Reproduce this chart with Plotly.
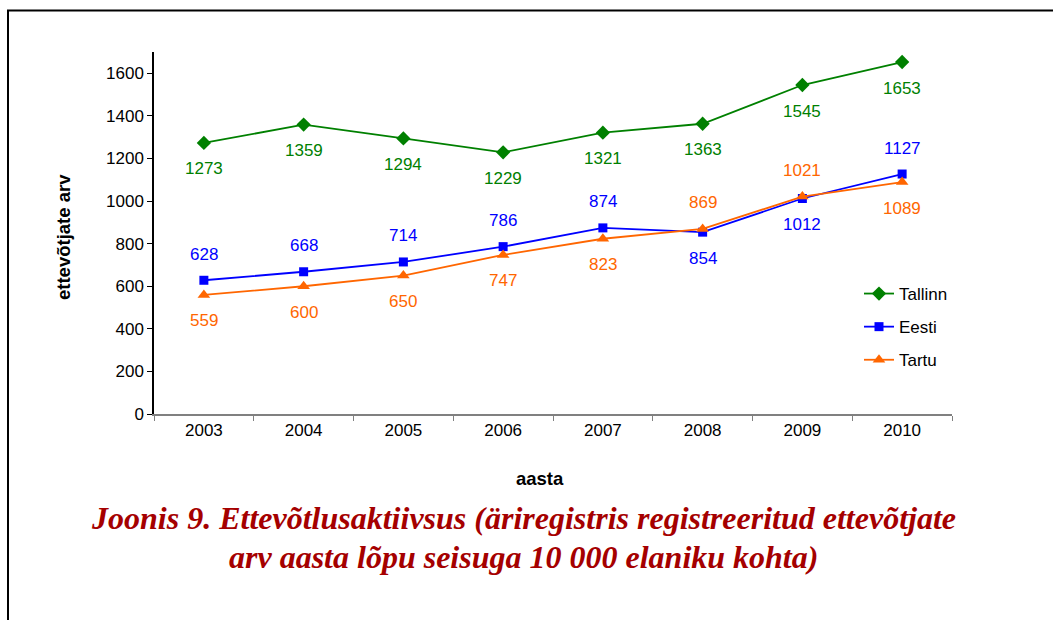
import plotly.graph_objects as go

years = ["2003", "2004", "2005", "2006", "2007", "2008", "2009", "2010"]
tallinn = [1273, 1359, 1294, 1229, 1321, 1363, 1545, 1653]
eesti = [628, 668, 714, 786, 874, 854, 1012, 1127]
tartu = [559, 600, 650, 747, 823, 869, 1021, 1089]

# label placement: +1 above, -1 below
tallinn_pos = [-1, -1, -1, -1, -1, -1, -1, -1]
eesti_pos = [1, 1, 1, 1, 1, -1, -1, 1]
tartu_pos = [-1, -1, -1, -1, -1, 1, 1, -1]

series = [
    ("Tallinn", tallinn, tallinn_pos, "#008000", "diamond", 11),
    ("Eesti", eesti, eesti_pos, "#0000FF", "square", 9),
    ("Tartu", tartu, tartu_pos, "#FF6600", "triangle-up", 11),
]

fig = go.Figure()
annotations = []
for name, vals, pos, col, sym, ms in series:
    fig.add_trace(go.Scatter(
        x=years, y=vals, name=name, mode="lines+markers",
        line=dict(color=col, width=1.8),
        marker=dict(symbol=sym, size=ms, color=col),
        legendgroup=name,
    ))
    for i, (v, p) in enumerate(zip(vals, pos)):
        annotations.append(dict(
            x=i, y=v, xref="x", yref="y", text=str(v), showarrow=False,
            yshift=26 * p, font=dict(family="Arial, Liberation Sans", size=17, color=col),
        ))

L, R, T, B = 154, 101, 52, 206
W, H = 1053, 620
pw, ph = W - L - R, H - T - B

def px(xp):
    return (xp - L) / pw

def py(yp):
    return (H - B - yp) / ph

title_font = dict(family="Liberation Serif, Times New Roman", size=32, color="#A50000")
axis_title_font = dict(family="Arial, Liberation Sans", size=18.5, color="black")
common = dict(xref="paper", yref="paper", showarrow=False, xanchor="center", yanchor="middle")
annotations += [
    dict(x=px(540), y=py(478), text="<b>aasta</b>", font=axis_title_font, **common),
    dict(x=px(63), y=py(237), text="<b>ettevõtjate arv</b>", textangle=-90,
         font=axis_title_font, **common),
    dict(x=px(523), y=py(518),
         text="<b><i>Joonis 9. Ettevõtlusaktiivsus (äriregistris registreeritud ettevõtjate</i></b>",
         font=title_font, **common),
    dict(x=px(523), y=py(557),
         text="<b><i>arv aasta lõpu seisuga 10 000 elaniku kohta)</i></b>",
         font=title_font, **common),
]

fig.add_shape(type="rect", xref="paper", yref="paper",
              x0=px(8), x1=px(1070), y0=py(640), y1=py(10.5),
              line=dict(color="black", width=2), fillcolor="rgba(0,0,0,0)", layer="below")

fig.update_layout(
    width=W, height=H,
    margin=dict(l=L, r=R, t=T, b=B, autoexpand=False),
    paper_bgcolor="white", plot_bgcolor="white",
    font=dict(family="Arial, Liberation Sans", size=17, color="black"),
    showlegend=True,
    legend=dict(x=px(859), y=py(276), xanchor="left", yanchor="top",
                bgcolor="rgba(0,0,0,0)", traceorder="grouped", tracegroupgap=8,
                font=dict(size=17)),
    annotations=annotations,
)
fig.update_xaxes(
    type="category", range=[-0.5, 7.5], showgrid=False, showline=True,
    linecolor="#808080", linewidth=1.5, ticks="outside", tickson="boundaries",
    ticklen=5, tickcolor="#808080", tickfont=dict(size=17), zeroline=False,
)
fig.update_yaxes(
    range=[0, 1700], tickvals=[0, 200, 400, 600, 800, 1000, 1200, 1400, 1600],
    showgrid=False, showline=True, linecolor="black", linewidth=1.5,
    ticks="outside", ticklen=5, tickcolor="black", tickfont=dict(size=17), zeroline=False,
)

fig.write_html("out.html", config={"displayModeBar": False})
with open("out.html", encoding="utf-8") as f:
    html = f.read()
html = html.replace("<body>", '<body style="margin:0;overflow:hidden">', 1)
with open("out.html", "w", encoding="utf-8") as f:
    f.write(html)
